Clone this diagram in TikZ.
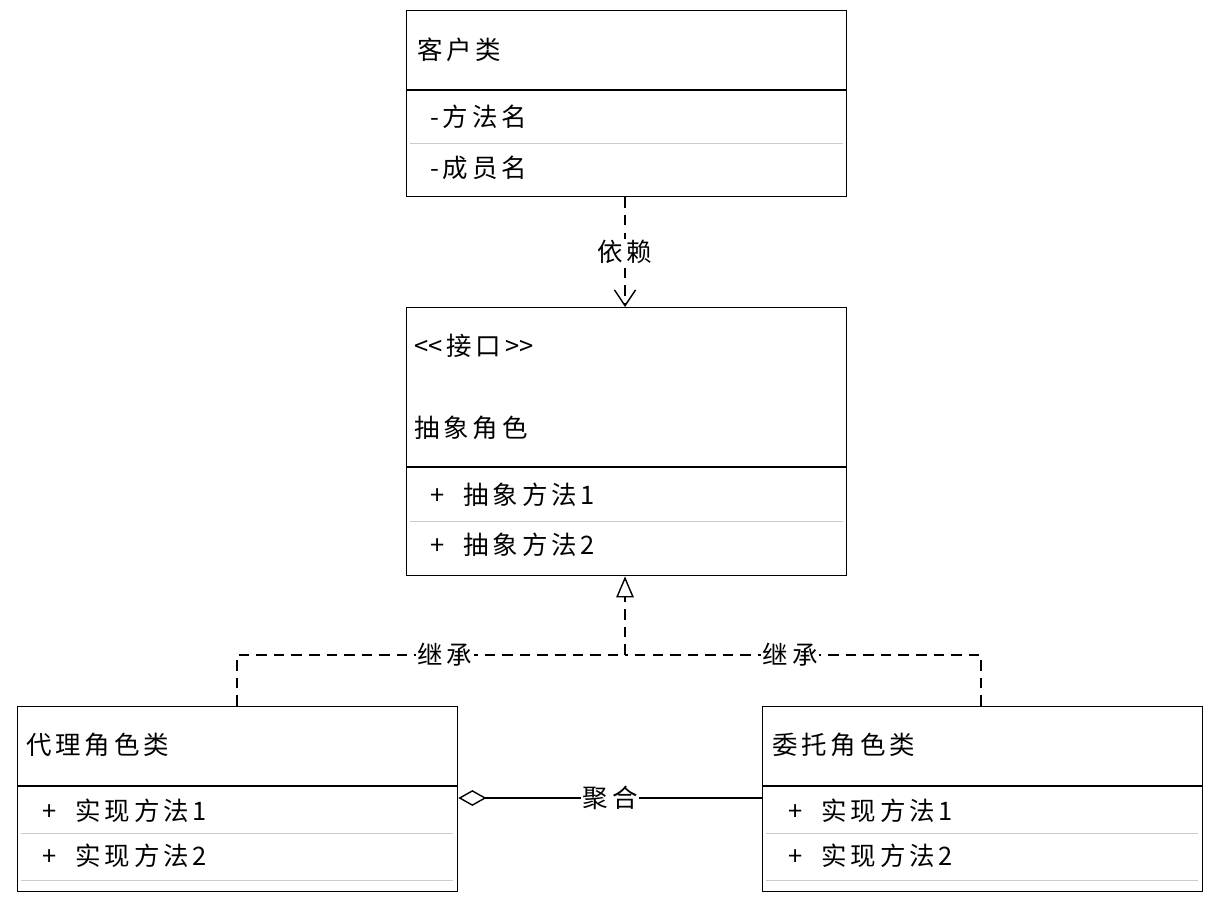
\documentclass[tikz,border=0pt]{standalone}
\usepackage{fontspec}
\setmainfont{Noto Sans CJK SC}[LetterSpace=15]
\usetikzlibrary{arrows.meta}
\begin{document}
\tikzset{
  box/.style={draw, thick, minimum width=8.8cm, anchor=north west, inner sep=0pt},
  txt/.style={anchor=west, font=\fontsize{14.5}{16}\selectfont, inner sep=0pt},
  sep/.style={gray!40, thin},
  dep/.style={thick, dash pattern=on 6pt off 4pt},
  lbl/.style={fill=white, font=\fontsize{14.5}{16}\selectfont, inner sep=1pt}
}
\begin{tikzpicture}[x=0.02cm, y=-0.02cm]
				\useasboundingbox (0,0) rectangle (1223,900);
				% client class
				\node [box, minimum height=3.72cm] (client) at (406,10) {};
				\draw [thick] (406,90) -- (847,90);
				\draw [sep] (410,143) -- (843,143);
				\node [txt] at (417,50) {客户类};
				\node [txt] at (430,117) {-方法名};
				\node [txt] at (430,168) {-成员名};
				% interface
				\node [box, minimum height=5.36cm] (iface) at (406,307) {};
				\draw [thick] (406,467) -- (847,467);
				\draw [sep] (410,521) -- (843,521);
				\node [txt] at (414,346) {<\kern0pt<接口>\kern0pt>};
				\node [txt] at (414,428) {抽象角色};
				\node [txt] at (430,495) {+\ \ 抽象方法1};
				\node [txt] at (430,545) {+\ \ 抽象方法2};
				% proxy
				\node [box, minimum height=3.7cm] (proxy) at (17,706) {};
				\draw [thick] (17,786) -- (457,786);
				\draw [sep] (21,833) -- (453,833);
				\draw [sep] (21,880) -- (453,880);
				\node [txt] at (26,745) {代理角色类};
				\node [txt] at (42,811) {+\ \ 实现方法1};
				\node [txt] at (42,856) {+\ \ 实现方法2};
				% real subject
				\node [box, minimum height=3.7cm] (real) at (762,706) {};
				\draw [thick] (762,786) -- (1202,786);
				\draw [sep] (766,833) -- (1198,833);
				\draw [sep] (766,880) -- (1198,880);
				\node [txt] at (772,745) {委托角色类};
				\node [txt] at (788,811) {+\ \ 实现方法1};
				\node [txt] at (788,856) {+\ \ 实现方法2};
				% connectors
				\coordinate (joint) at (625,655);
				\draw [dep, -{Straight Barb[length=9pt,width=12pt]}] (client.south -| joint) -- (iface.north -| joint)
				node [lbl, midway] {依赖};
				\draw [dep, -{Triangle[open,length=12pt,width=10pt]}] (joint) -- (iface.south -| joint);
				\draw [dep] (proxy.north -| 237,0) |- (joint)
				node [lbl, pos=0.768] {继承};
				\draw [dep] (real.north -| 981,0) |- (joint)
				node [lbl, pos=0.768] {继承};
				\draw [thick, {Diamond[open,length=16pt,width=9pt]}-] (proxy.east |- 0,798) -- (real.west |- 0,798)
				node [lbl, pos=0.5] {聚合};
			\end{tikzpicture}
\end{document}
